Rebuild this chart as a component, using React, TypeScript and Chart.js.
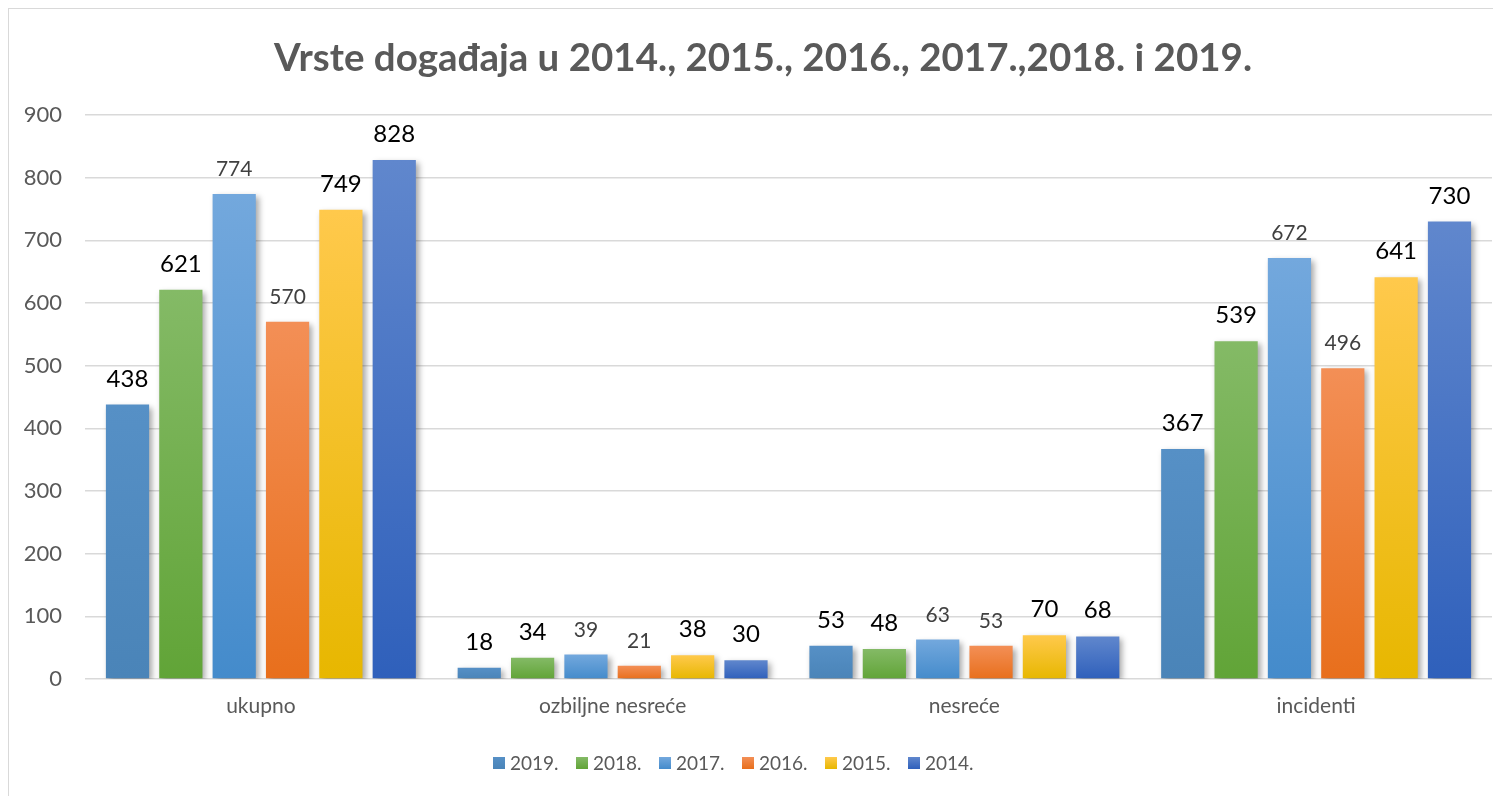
import React, { useEffect, useRef } from "react";
import { Chart, registerables } from "chart.js";

Chart.register(...registerables);

const TITLE = "Vrste događaja u 2014., 2015., 2016., 2017.,2018. i 2019.";
const categories = ["ukupno", "ozbiljne nesreće", "nesreće", "incidenti"];
const seriesNames = ["2019.", "2018.", "2017.", "2016.", "2015.", "2014."];
const v2019 = [438, 18, 53, 367];
const v2018 = [621, 34, 48, 539];
const v2017 = [774, 39, 63, 672];
const v2016 = [570, 21, 53, 496];
const v2015 = [749, 38, 70, 641];
const v2014 = [828, 30, 68, 730];
const yTicks = [0, 100, 200, 300, 400, 500, 600, 700, 800, 900];

const seriesValues = [v2019, v2018, v2017, v2016, v2015, v2014];
const topColors = ["#5690c6", "#84ba66", "#73a8dd", "#f38f56", "#ffc94c", "#6087cd"];
const bottomColors = ["#4a84b8", "#61a437", "#448bcb", "#e86f1c", "#e7b700", "#2f60bb"];
const solidColors = ["#4f8abe", "#70ae4f", "#5b9bd5", "#ed7d31", "#ffc000", "#4472c4"];
// labels style: big black vs smaller gray
const labelBig = [true, true, false, false, true, true];

const FONT = "Lato, 'Open Sans', sans-serif";
const GRAY = "#595959";

export default function App() {
  const canvasRef = useRef<HTMLCanvasElement | null>(null);

  useEffect(() => {
    document.body.style.overflow = "hidden";
    const canvas = canvasRef.current!;

    const gradFor = (c: any, i: number) => {
      const chart = c.chart;
      if (c.type !== "data" || !chart.chartArea || !chart.scales?.y) return solidColors[i];
      const y = chart.scales.y;
      const top = y.getPixelForValue(c.raw);
      const base = y.getPixelForValue(0);
      if (!isFinite(top) || !isFinite(base) || Math.abs(base - top) < 1) return solidColors[i];
      const g = chart.ctx.createLinearGradient(0, top, 0, base);
      g.addColorStop(0, topColors[i]);
      g.addColorStop(1, bottomColors[i]);
      return g;
    };

    const shadowPlugin = {
      id: "barShadow",
      beforeDatasetsDraw(chart: any) {
        const ctx = chart.ctx;
        ctx.save();
        ctx.shadowColor = "rgba(0,0,0,0.35)";
        ctx.shadowBlur = 6;
        ctx.shadowOffsetX = 3;
        ctx.shadowOffsetY = 3;
      },
      afterDatasetsDraw(chart: any) {
        chart.ctx.restore();
      },
    };

    const labelsPlugin = {
      id: "valueLabels",
      afterDatasetsDraw(chart: any) {
        const ctx = chart.ctx;
        ctx.save();
        ctx.textAlign = "center";
        ctx.textBaseline = "alphabetic";
        chart.data.datasets.forEach((ds: any, di: number) => {
          const meta = chart.getDatasetMeta(di);
          const big = labelBig[di];
          ctx.font = big ? `24px ${FONT}` : `21px ${FONT}`;
          ctx.fillStyle = big ? "#000000" : "#404040";
          meta.data.forEach((el: any, idx: number) => {
            ctx.fillText(String(ds.data[idx]), el.x, el.y - 18);
          });
        });
        ctx.restore();
      },
    };

    const titleLegendPlugin = {
      id: "titleLegend",
      afterDraw(chart: any) {
        const ctx = chart.ctx;
        ctx.save();
        // title
        ctx.font = `bold 38.5px ${FONT}`;
        ctx.fillStyle = GRAY;
        ctx.textAlign = "center";
        ctx.textBaseline = "alphabetic";
        ctx.fillText(TITLE, chart.width / 2, 62);
        // legend
        ctx.font = `19px ${FONT}`;
        ctx.textAlign = "left";
        ctx.textBaseline = "middle";
        const startX = 484;
        const step = 83;
        const cy = 754;
        seriesNames.forEach((name, i) => {
          const x = startX + i * step;
          const g = ctx.createLinearGradient(0, cy - 6, 0, cy + 6);
          g.addColorStop(0, topColors[i]);
          g.addColorStop(1, bottomColors[i]);
          ctx.fillStyle = g;
          ctx.fillRect(x, cy - 6, 12, 12);
          ctx.fillStyle = GRAY;
          ctx.fillText(name, x + 17, cy + 1);
        });
        ctx.restore();
      },
    };

    const chart = new Chart(canvas, {
      type: "bar",
      data: {
        labels: categories,
        datasets: seriesNames.map((name, i) => ({
          label: name,
          data: seriesValues[i],
          backgroundColor: (c: any) => gradFor(c, i),
          borderWidth: 0,
          categoryPercentage: 0.91,
          barPercentage: 0.81,
        })),
      },
      options: {
        responsive: false,
        animation: false,
        layout: { padding: { top: 106, right: 25, bottom: 0, left: 0 } },
        plugins: {
          legend: { display: false },
          title: { display: false },
          tooltip: { enabled: false },
        },
        scales: {
          x: {
            grid: { display: false, drawTicks: false },
            border: { display: false },
            ticks: {
              padding: 15,
              color: GRAY,
              font: { family: FONT, size: 21 },
            },
            afterFit(scale: any) {
              scale.height = 117;
            },
          },
          y: {
            min: 0,
            max: 900,
            afterBuildTicks(scale: any) {
              scale.ticks = yTicks.map((v) => ({ value: v }));
            },
            grid: { color: "#d9d9d9", lineWidth: 1.5, drawTicks: false },
            border: { display: false },
            ticks: {
              padding: 23,
              color: GRAY,
              font: { family: FONT, size: 22 },
            },
            afterFit(scale: any) {
              scale.width = 76;
            },
          },
        },
      },
      plugins: [shadowPlugin, labelsPlugin, titleLegendPlugin],
    });

    return () => chart.destroy();
  }, []);

  return (
    <div style={{ width: 1493, height: 788, overflow: "hidden", position: "relative" }}>
      <div
        style={{
          position: "absolute",
          left: 0,
          top: 0,
          width: 1508,
          height: 800,
          border: "1px solid #d9d9d9",
          background: "#ffffff",
        }}
      >
        <canvas ref={canvasRef} width={1508} height={787} style={{ display: "block" }} />
      </div>
    </div>
  );
}
